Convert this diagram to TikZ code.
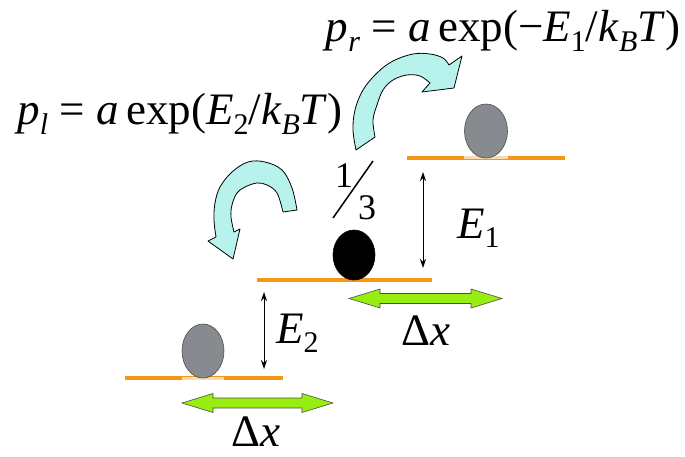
\documentclass[tikz,border=0pt]{standalone}
\usepackage{fontspec}
\setmainfont{Liberation Serif}
\usetikzlibrary{arrows.meta,shapes.geometric}
\definecolor{orng}{RGB}{245,150,20}
\definecolor{peach}{RGB}{250,218,175}
\definecolor{ballgray}{RGB}{135,138,142}
\definecolor{cyanfill}{RGB}{183,243,236}
\definecolor{lime}{RGB}{153,238,17}
\newcommand\lo[1]{\raisebox{-0.22em}{\fontsize{30}{30}\selectfont #1}}
\tikzset{
  level/.style={draw=orng,line width=4pt},
  under/.style={draw=peach,line width=3pt},
  ball/.style={ellipse,draw=black!70,line width=0.6pt,inner sep=0pt},
  curvy/.style={fill=cyanfill,draw=black,line width=0.8pt,line join=round},
  dbl/.style={fill=lime,draw=black!70,line width=0.6pt,line join=miter},
  gap/.style={draw=black,line width=1pt,{Stealth[length=9pt,width=6pt]}-{Stealth[length=9pt,width=6pt]}},
  lab/.style={inner sep=0pt,font=\fontsize{45}{45}\selectfont},
}
\begin{document}
\begin{tikzpicture}[x=1pt,y=-1pt]
\useasboundingbox (0,0) rectangle (685,457);
% levels
\draw[level] (407,158) -- (565,158);
\draw[level] (257,280) -- (432,280);
\draw[level] (125,378) -- (283,378);
\draw[under] (464,158) -- (508,158);
\draw[under] (182,378) -- (224,378);
% balls
\node[ball,fill=ballgray,minimum width=43pt,minimum height=54pt] (ballR) at (486,131) {};
\node[ball,fill=black,draw=black,minimum width=42pt,minimum height=50pt] (ballM) at (354,255) {};
\node[ball,fill=ballgray,minimum width=42pt,minimum height=54pt] (ballL) at (203,351) {};
% energy gaps
\coordinate (e1t) at (423,172);
\coordinate (e1b) at (423,268);
\coordinate (e2t) at (264,292);
\coordinate (e2b) at (264,369);
\draw[gap] (e1t) -- (e1b);
\draw[gap] (e2t) -- (e2b);
% green double arrows
\draw[dbl] (349,298.5) -- (380,289) -- (380,293.5) -- (471,293.5) -- (471,289) -- (502,298.5)
  -- (471,308) -- (471,303.5) -- (380,303.5) -- (380,308) -- cycle;
\draw[dbl] (182,403) -- (213,393.5) -- (213,398) -- (302,398) -- (302,393.5) -- (333,403)
  -- (302,412.5) -- (302,408) -- (213,408) -- (213,412.5) -- cycle;
% curved arrows
\draw[curvy] plot[smooth,tension=0.6] coordinates {(356,150) (353,130) (355,110) (363,90) (377,73) (393,61) (413,54) (430,54) (443,58) (449,65)}
  -- (462,56) -- (454,88) -- (422,92) -- (430,83)
  -- plot[smooth,tension=0.6] coordinates {(430,83) (420,76) (407,75) (393,80) (383,90) (377,105) (373,120) (375,137)} -- cycle;
\draw[curvy] plot[smooth,tension=0.6] coordinates {(297,210) (292,188) (282,170) (265,162) (248,162) (232,172) (220,187) (215,203) (214,220) (216,237)}
  -- (208,241) -- (233,259) -- (240,229) -- (234,232)
  -- plot[smooth,tension=0.6] coordinates {(234,232) (231,217) (232,205) (237,193) (245,187) (257,183) (267,185) (277,193) (283,212)} -- cycle;
% labels
\node[lab,anchor=base] (pr) at (503,42) {\textit{p}\lo{\textit{r}}\ =\ \textit{a}\,exp(−\textit{E}\lo{1}/\textit{k}\lo{\textit{B}}\textit{T})};
\node[lab,anchor=base] (pl) at (180,125) {\textit{p}\lo{\textit{l}}\ =\ \textit{a}\,exp(\textit{E}\lo{2}/\textit{k}\lo{\textit{B}}\textit{T})};
\node[lab,anchor=base west] (E1) at (457,238) {\textit{E}\lo{1}};
\node[lab,anchor=base west] (E2) at (276,343) {\textit{E}\lo{2}};
\node[lab,anchor=base west] (dx1) at (401,345) {Δ\textit{x}};
\node[lab,anchor=base west] (dx2) at (231,446) {Δ\textit{x}};
\node[inner sep=0pt,font=\fontsize{36}{36}\selectfont] (one) at (344,176) {1};
\node[inner sep=0pt,font=\fontsize{36}{36}\selectfont] (three) at (367,208) {3};
\coordinate (s1) at (333,218);
\coordinate (s2) at (373,161);
\draw[line width=1.5pt] (s1) -- (s2);
\end{tikzpicture}
\end{document}
